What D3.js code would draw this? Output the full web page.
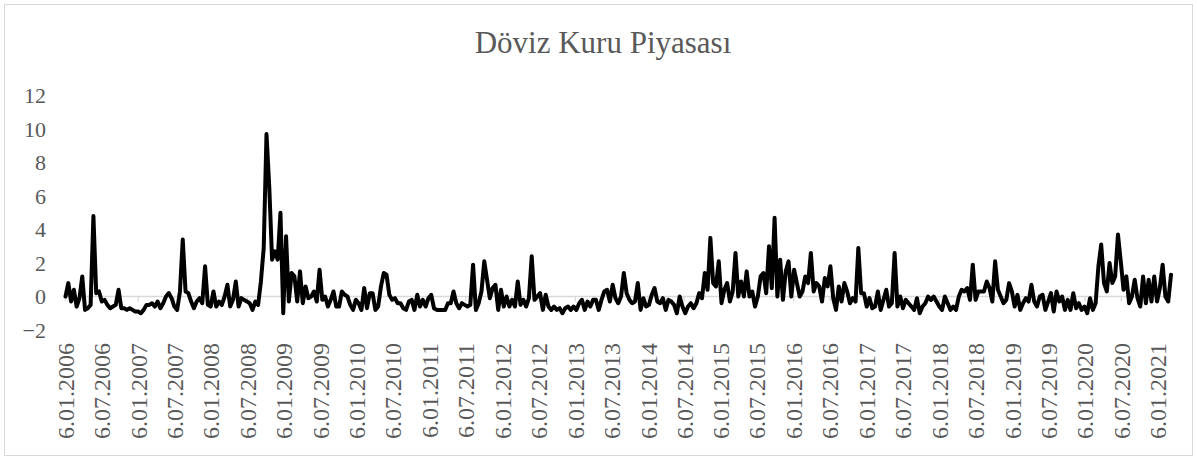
<!DOCTYPE html>
<html lang="tr">

<head>
    <meta charset="UTF-8">
    <title>Döviz Kuru Piyasası</title>
    <script src="https://d3js.org/d3.v7.min.js"></script>
    <style>
        body {
            margin: 0;
            padding: 0;
            background: #fff;
        }

        svg text {
            font-family: 'Liberation Serif', 'Times New Roman', serif;
            fill: #595959;
        }
    </style>
</head>

<body>
    <svg id="chart" width="1197" height="458"></svg>
    <script>
        // bi-weekly readings, one array per year (first point 6.01.2006)
        const v2006 = [0.0, 0.8, -0.3, 0.4, -0.6, -0.1, 1.2, -0.8, -0.7, -0.5, 4.8, 0.2, 0.3, -0.3, -0.2, -0.5, -0.7, -0.6, -0.5, 0.4, -0.7, -0.7, -0.8, -0.7, -0.8, -0.9];
        const v2007 = [-0.9, -1.0, -0.8, -0.5, -0.5, -0.4, -0.6, -0.3, -0.7, -0.4, 0.0, 0.2, -0.1, -0.6, -0.8, 0.3, 3.4, 0.3, 0.2, -0.3, -0.7, -0.3, -0.1, -0.4, 1.8, -0.5];
        const v2008 = [-0.6, 0.3, -0.6, -0.3, -0.5, 0.0, 0.7, -0.6, -0.2, 0.9, -0.6, -0.1, -0.2, -0.3, -0.4, -0.8, -0.3, -0.5, 0.9, 2.9, 9.7, 6.5, 2.2, 2.7, 2.2, 5.0];
        const v2009 = [-1.0, 3.6, -0.3, 1.4, 1.2, -0.3, 1.5, -0.4, 0.6, -0.1, 0.0, 0.3, -0.3, 1.6, -0.2, 0.0, -0.6, -0.2, 0.3, -0.6, -0.6, 0.3, 0.1, 0.0, -0.5, -0.8];
        const v2010 = [-0.2, -0.4, -0.8, 0.5, -0.7, 0.2, 0.2, -0.8, -0.6, 0.6, 1.4, 1.3, 0.1, -0.2, -0.1, -0.4, -0.4, -0.7, -0.8, -0.3, -0.2, -0.8, 0.1, -0.6, -0.2, -0.6];
        const v2011 = [-0.1, 0.1, -0.7, -0.8, -0.8, -0.8, -0.8, -0.4, -0.4, 0.3, -0.4, -0.7, -0.4, -0.5, -0.6, -0.5, 1.9, -0.8, -0.4, 0.3, 2.1, 1.0, -0.1, 0.5, 0.7, -0.8];
        const v2012 = [0.4, -0.6, 0.0, -0.6, -0.2, -0.6, 0.9, -0.5, -0.2, -0.6, -0.1, 2.4, -0.2, 0.0, 0.2, -0.8, 0.1, -0.6, -0.8, -0.6, -0.8, -0.7, -1.0, -0.7, -0.6, -0.8];
        const v2013 = [-0.6, -0.8, -0.4, -0.2, -0.8, -0.3, -0.6, -0.2, -0.2, -0.8, -0.2, 0.3, 0.4, -0.3, 0.7, -0.1, -0.4, 0.0, 1.4, 0.2, -0.2, -0.4, -0.3, 0.8, -0.8, -0.1];
        const v2014 = [-0.6, -0.5, 0.1, 0.5, -0.3, -0.4, -0.1, -0.8, -0.2, -0.3, -0.5, -1.0, 0.0, -0.6, -1.0, -0.6, -0.4, -0.7, -0.4, 0.2, -0.1, 1.4, 0.4, 3.5, 0.8, 0.6];
        const v2015 = [2.1, -0.4, 0.4, 0.8, -0.3, 0.3, 2.6, 0.0, 0.9, 0.0, 1.5, 0.0, 0.3, -0.6, 0.0, 1.2, 1.4, 0.2, 3.0, 0.5, 4.7, 0.0, 2.2, -0.2, 1.5, 2.1];
        const v2016 = [0.0, 1.6, 0.8, 0.0, 0.3, 1.2, 0.8, 2.6, 0.3, 0.8, 0.6, -0.3, 1.1, 0.6, 1.8, -0.1, -0.8, 0.6, -0.3, 0.8, 0.3, -0.4, -0.1, -0.3, 2.9, 0.2];
        const v2017 = [0.2, -0.6, -0.1, -0.7, -0.6, 0.3, -0.8, -0.2, 0.4, -0.6, -0.4, 2.6, -0.6, 0.0, -0.7, -0.2, -0.4, -0.6, -0.8, -0.1, -1.0, -0.6, -0.4, 0.0, -0.2, 0.0];
        const v2018 = [-0.3, -0.6, -0.8, 0.0, -0.4, -0.8, -0.6, -0.8, 0.0, 0.4, 0.3, 0.5, -0.2, 1.9, -0.2, 0.3, 0.3, 0.3, 0.9, 0.5, -0.3, 2.1, 0.4, 0.0, -0.4, -0.2];
        const v2019 = [0.8, 0.3, -0.6, 0.1, -0.8, -0.4, -0.1, -0.3, 0.7, -0.3, -0.6, 0.0, 0.1, -0.8, -0.3, 0.2, -0.9, 0.3, -0.3, 0.0, -0.8, -0.2, -0.8, 0.2, -0.7, -0.4];
        const v2020 = [-0.8, -0.6, -1.0, -0.1, -0.8, -0.4, 1.8, 3.1, 0.8, 0.3, 2.0, 0.8, 1.2, 3.7, 2.1, 0.4, 1.2, -0.4, 0.0, 1.0, -0.1, -0.6, 1.2, -0.4, 1.0, -0.3];
        const v2021 = [1.2, -0.3, 0.5, 1.9, 0.0, -0.3, 1.3];

        const yTicks = [-2, 0, 2, 4, 6, 8, 10, 12];
        const xTickLabels = [
            "6.01.2006", "6.07.2006", "6.01.2007", "6.07.2007", "6.01.2008", "6.07.2008",
            "6.01.2009", "6.07.2009", "6.01.2010", "6.07.2010", "6.01.2011", "6.07.2011",
            "6.01.2012", "6.07.2012", "6.01.2013", "6.07.2013", "6.01.2014", "6.07.2014",
            "6.01.2015", "6.07.2015", "6.01.2016", "6.07.2016", "6.01.2017", "6.07.2017",
            "6.01.2018", "6.07.2018", "6.01.2019", "6.07.2019", "6.01.2020", "6.07.2020",
            "6.01.2021"
        ];

        const values = [].concat(v2006, v2007, v2008, v2009, v2010, v2011, v2012, v2013,
            v2014, v2015, v2016, v2017, v2018, v2019, v2020, v2021);

        const parseDate = d3.timeParse("%d.%m.%Y");
        const start = parseDate("06.01.2006");
        const data = values.map((v, i) => ({ date: d3.timeDay.offset(start, 14 * i), value: v }));
        const tickDates = xTickLabels.map(s => parseDate("0" + s));

        const svg = d3.select("#chart");

        // chart outline
        svg.append("rect")
            .attr("x", 4.5).attr("y", 4.5)
            .attr("width", 1188).attr("height", 451)
            .attr("fill", "none")
            .attr("stroke", "#d9d9d9");

        const x = d3.scaleTime()
            .domain([data[0].date, data[data.length - 1].date])
            .range([65.5, 1171]);
        const y = d3.scaleLinear().domain([-2, 12]).range([330, 95.5]);

        // title
        svg.append("text")
            .attr("x", 603).attr("y", 53)
            .attr("text-anchor", "middle")
            .style("font-size", "31px")
            .text("Döviz Kuru Piyasası");

        // y axis labels
        const yAxis = svg.append("g")
            .attr("transform", "translate(46,0)")
            .call(d3.axisLeft(y).tickValues(yTicks).tickSize(0).tickPadding(0).tickFormat(d3.format("d")));
        yAxis.select(".domain").remove();
        yAxis.selectAll("text").style("font-size", "22px").style("fill", "#595959");

        // category axis at zero
        svg.append("line")
            .attr("x1", 65.5).attr("x2", 1171)
            .attr("y1", y(0)).attr("y2", y(0))
            .attr("stroke", "#d9d9d9").attr("stroke-width", 1.3);

        svg.selectAll(".xtick")
            .data(tickDates)
            .enter()
            .append("line")
            .attr("class", "xtick")
            .attr("x1", d => x(d)).attr("x2", d => x(d))
            .attr("y1", y(0)).attr("y2", y(0) + 5)
            .attr("stroke", "#d9d9d9").attr("stroke-width", 1.3);

        svg.selectAll(".xlabel")
            .data(tickDates)
            .enter()
            .append("text")
            .attr("class", "xlabel")
            .attr("transform", d => `translate(${x(d)},343) rotate(-90)`)
            .attr("dy", "0.35em")
            .attr("text-anchor", "end")
            .style("font-size", "24px")
            .text((d, i) => xTickLabels[i]);

        // series
        const line = d3.line()
            .x(d => x(d.date))
            .y(d => y(d.value));

        svg.append("path")
            .datum(data)
            .attr("d", line)
            .attr("fill", "none")
            .attr("stroke", "#000")
            .attr("stroke-width", 4)
            .attr("stroke-linejoin", "round")
            .attr("stroke-linecap", "round");
    </script>
</body>

</html>
